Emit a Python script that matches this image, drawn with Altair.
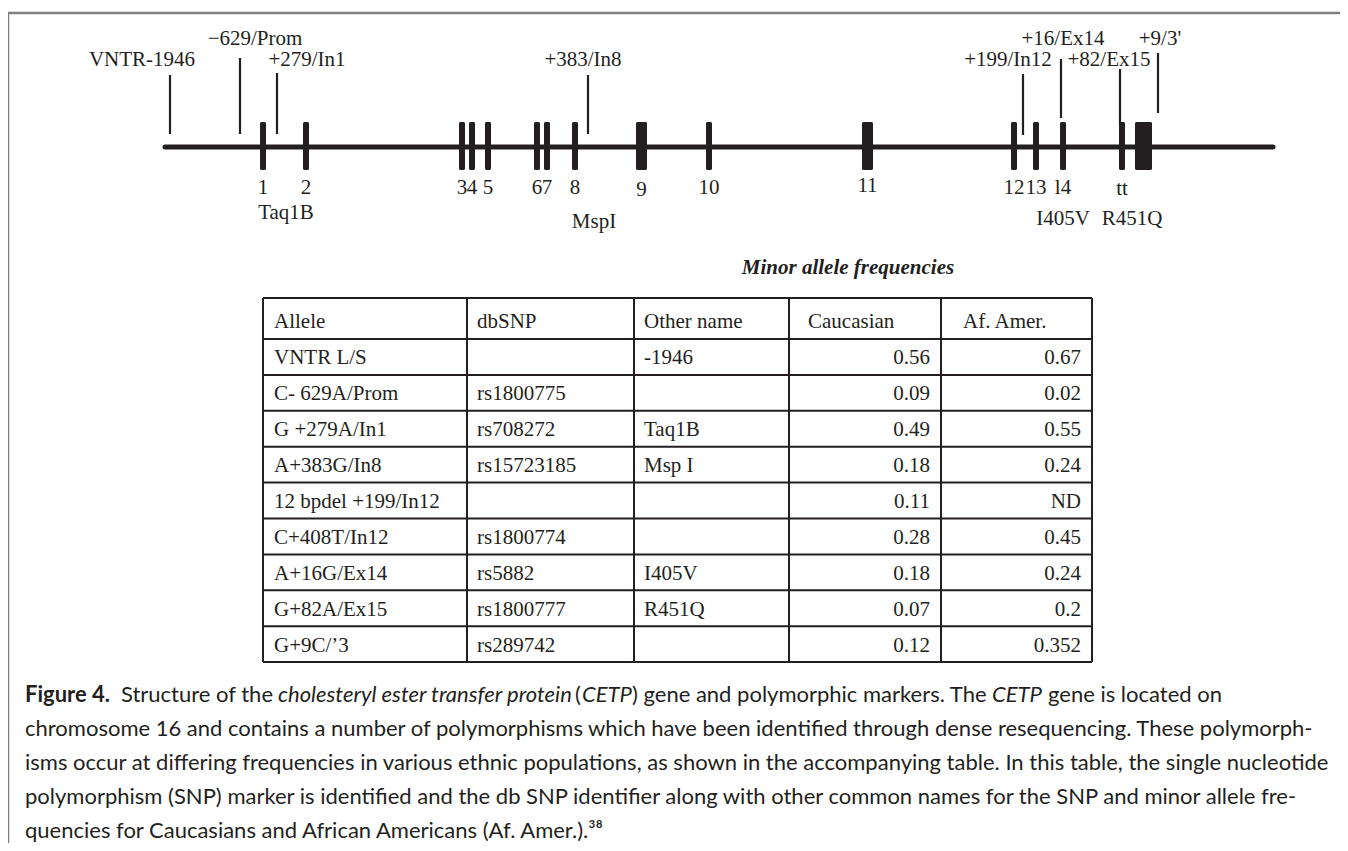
import altair as alt
import pandas as pd

# ---------------- data ----------------
# gene map coordinates (diagram units)
gene_span = [165, 1273]
exon_labels = ["1", "2", "3", "4", "5", "6", "7", "8", "9", "10", "11", "12", "13", "l4", "tt", ""]
exon_start = [260, 303, 459, 469, 485, 534, 544, 572, 636, 706, 862, 1011, 1033, 1060, 1119, 1135]
exon_end = [266, 309, 465, 475, 491, 540, 550, 578, 647, 712, 873, 1017, 1039, 1066, 1125, 1152]

marker_names = ["VNTR-1946", "\u2212629/Prom", "+279/In1", "+383/In8",
                "+199/In12", "+16/Ex14", "+82/Ex15", "+9/3'"]
marker_pos = [170, 240, 277, 588, 1023, 1061, 1120, 1158]
marker_top = [75, 58, 73, 75, 74, 59, 69, 53]
marker_bottom = [134, 134, 134, 134, 135, 118, 125, 113]
marker_label_x = [142, 255, 307, 583, 1008, 1063, 1109, 1160]
marker_label_row = [1, 0, 1, 1, 1, 0, 1, 0]

site_names = ["Taq1B", "MspI", "I405V", "R451Q"]
site_x = [286, 594, 1063, 1132]
site_y = [213, 222, 219, 219]

table_title = "Minor allele frequencies"
headers = ["Allele", "dbSNP", "Other name", "Caucasian", "Af. Amer."]
allele = ["VNTR L/S", "C- 629A/Prom", "G +279A/In1", "A+383G/In8", "12 bpdel +199/In12",
          "C+408T/In12", "A+16G/Ex14", "G+82A/Ex15", "G+9C/\u20193"]
dbsnp = ["", "rs1800775", "rs708272", "rs15723185", "", "rs1800774", "rs5882", "rs1800777", "rs289742"]
other = ["-1946", "", "Taq1B", "Msp I", "", "", "I405V", "R451Q", ""]
caucasian = ["0.56", "0.09", "0.49", "0.18", "0.11", "0.28", "0.18", "0.07", "0.12"]
af_amer = ["0.67", "0.02", "0.55", "0.24", "ND", "0.45", "0.24", "0.2", "0.352"]

caption_line1 = [
    ("Figure 4.", "bold", "normal"),
    ("Structure of the", "normal", "normal"),
    ("cholesteryl ester transfer protein", "normal", "italic"),
    ("(", "normal", "normal"),
    ("CETP", "normal", "italic"),
    (") gene and polymorphic markers. The", "normal", "normal"),
    ("CETP", "normal", "italic"),
    ("gene is located on", "normal", "normal"),
]
caption_line1_x = [25, 121, 278, 575, 582, 632, 992, 1048]
caption_rest = [
    "chromosome 16 and contains a number of polymorphisms which have been identified through dense resequencing. These polymorph-",
    "isms occur at differing frequencies in various ethnic populations, as shown in the accompanying table. In this table, the single nucleotide",
    "polymorphism (SNP) marker is identified and the db SNP identifier along with other common names for the SNP and minor allele fre-",
    "quencies for Caucasians and African Americans (Af. Amer.).\u00b3\u2078",
]

# ---------------- layout ----------------
W, H = 1332, 835
INK = "#231f20"
SERIF = "Liberation Serif"
SANS = "Lato"
CAP_SIZE = 22
xs = alt.Scale(domain=[8, 8 + W], nice=False, zero=False)
ys = alt.Scale(domain=[8, 8 + H], nice=False, zero=False, reverse=True)

def X(f):
    return alt.X(f, type="quantitative", scale=xs, axis=None)

def Y(f):
    return alt.Y(f, type="quantitative", scale=ys, axis=None)

gene_y, exon_top, exon_bot = 147, 122, 170
label_rows = [39, 60]
col_edges = [263, 467, 634, 789, 941, 1092]
row_edges = [298, 339] + [339 + (i + 1) * 35.9 for i in range(9)]

layers = []

# frame
frame = pd.DataFrame({"x": [7, 8], "x2": [1348, 8], "y": [13, 13], "y2": [13, 851]})
layers.append(alt.Chart(frame).mark_rule(color="#808080", strokeWidth=2.5).encode(
    x=X("x"), x2="x2", y=Y("y"), y2="y2"))

# gene backbone
gdf = pd.DataFrame({"x": [gene_span[0]], "x2": [gene_span[1]], "y": [gene_y]})
layers.append(alt.Chart(gdf).mark_rule(color=INK, strokeWidth=5, strokeCap="round").encode(
    x=X("x"), x2="x2", y=Y("y")))

# exons
edf = pd.DataFrame({"s": exon_start, "e": exon_end, "t": exon_top, "b": exon_bot, "lab": exon_labels})
edf["c"] = (edf["s"] + edf["e"]) / 2
layers.append(alt.Chart(edf).mark_rect(color=INK, cornerRadius=1.5).encode(
    x=X("s"), x2="e", y=Y("t"), y2="b"))
edf["ly"] = [188] * 8 + [190, 188, 186, 188, 188, 188, 189, 188]
layers.append(alt.Chart(edf).mark_text(font=SERIF, fontSize=21, color=INK, baseline="middle").encode(
    x=X("c"), y=Y("ly"), text="lab:N"))

# marker stalks and labels
mdf = pd.DataFrame({"p": marker_pos, "t": marker_top, "b": marker_bottom, "name": marker_names,
                    "lx": marker_label_x, "ly": [label_rows[r] for r in marker_label_row]})
layers.append(alt.Chart(mdf).mark_rule(color=INK, strokeWidth=2.2).encode(
    x=X("p"), y=Y("t"), y2="b"))
layers.append(alt.Chart(mdf).mark_text(font=SERIF, fontSize=21, color=INK, baseline="middle").encode(
    x=X("lx"), y=Y("ly"), text="name:N"))

# restriction site / variant names
sdf = pd.DataFrame({"x": site_x, "y": site_y, "t": site_names})
layers.append(alt.Chart(sdf).mark_text(font=SERIF, fontSize=21, color=INK, baseline="middle").encode(
    x=X("x"), y=Y("y"), text="t:N"))

# table title
tdf = pd.DataFrame({"x": [848], "y": [268], "t": [table_title]})
layers.append(alt.Chart(tdf).mark_text(font=SERIF, fontSize=21, fontWeight="bold", fontStyle="italic",
                                       color=INK, baseline="middle").encode(
    x=X("x"), y=Y("y"), text="t:N"))

# table grid
hl = pd.DataFrame({"x": [col_edges[0]] * len(row_edges), "x2": [col_edges[-1]] * len(row_edges), "y": row_edges})
vl = pd.DataFrame({"x": col_edges, "y": [row_edges[0]] * len(col_edges), "y2": [row_edges[-1]] * len(col_edges)})
layers.append(alt.Chart(hl).mark_rule(color=INK, strokeWidth=2).encode(x=X("x"), x2="x2", y=Y("y")))
layers.append(alt.Chart(vl).mark_rule(color=INK, strokeWidth=2).encode(x=X("x"), y=Y("y"), y2="y2"))

# table header
hx = [col_edges[0] + 11, col_edges[1] + 10, col_edges[2] + 10, col_edges[3] + 19, col_edges[4] + 22]
hdf = pd.DataFrame({"x": hx, "y": [(row_edges[0] + row_edges[1]) / 2 + 3] * 5, "t": headers})
layers.append(alt.Chart(hdf).mark_text(font=SERIF, fontSize=21, color=INK, align="left", baseline="middle").encode(
    x=X("x"), y=Y("y"), text="t:N"))

# table body
rows_left, rows_right = [], []
for i in range(len(allele)):
    yc = (row_edges[i + 1] + row_edges[i + 2]) / 2 + 1.5
    for j, col in enumerate([allele, dbsnp, other]):
        rows_left.append({"x": col_edges[j] + 11 if j == 0 else col_edges[j] + 10, "y": yc, "t": col[i]})
    for j, col in enumerate([caucasian, af_amer]):
        rows_right.append({"x": col_edges[j + 4] - 11, "y": yc, "t": col[i]})
layers.append(alt.Chart(pd.DataFrame(rows_left)).mark_text(font=SERIF, fontSize=21, color=INK, align="left",
                                                          baseline="middle").encode(
    x=X("x"), y=Y("y"), text="t:N"))
layers.append(alt.Chart(pd.DataFrame(rows_right)).mark_text(font=SERIF, fontSize=21, color=INK, align="right",
                                                           baseline="middle").encode(
    x=X("x"), y=Y("y"), text="t:N"))

# caption
cap_y = [695, 729, 763, 797, 831]
c1 = pd.DataFrame({"x": caption_line1_x, "y": [cap_y[0]] * len(caption_line1),
                   "t": [s[0] for s in caption_line1], "w": [s[1] for s in caption_line1],
                   "st": [s[2] for s in caption_line1]})
for (w, st), grp in c1.groupby(["w", "st"]):
    layers.append(alt.Chart(grp).mark_text(font=SANS, fontSize=CAP_SIZE, color=INK, align="left",
                                           baseline="middle", fontWeight=w, fontStyle=st).encode(
        x=X("x"), y=Y("y"), text="t:N"))
crest = pd.DataFrame({"x": [25] * len(caption_rest), "y": cap_y[1:], "t": caption_rest})
layers.append(alt.Chart(crest).mark_text(font=SANS, fontSize=CAP_SIZE, color=INK, align="left",
                                         baseline="middle").encode(
    x=X("x"), y=Y("y"), text="t:N"))

chart = alt.layer(*layers).properties(
    width=W, height=H, padding=0, autosize=alt.AutoSizeParams(type="none")
).configure_view(stroke=None)

chart.save("out.html", embed_options={"renderer": "svg", "actions": False})
